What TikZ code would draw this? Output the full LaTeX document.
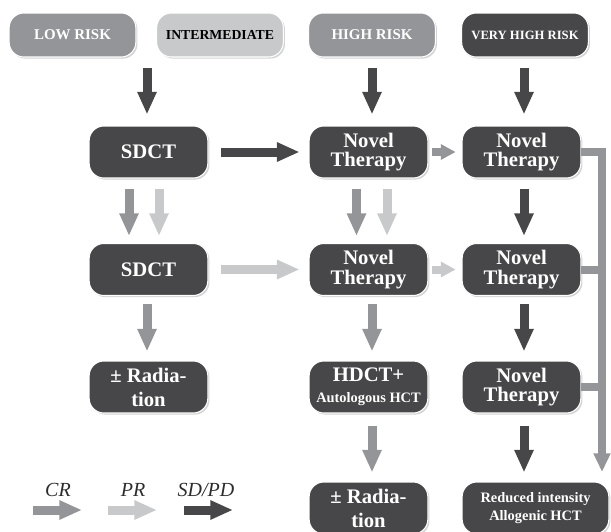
\documentclass[tikz,border=0pt]{standalone}
\usepackage{fontspec}
\setmainfont{Liberation Serif}
\usetikzlibrary{arrows.meta,shadows,calc}

\definecolor{darkbox}{RGB}{71,71,73}
\definecolor{midgray}{RGB}{147,149,152}
\definecolor{lightgray}{RGB}{200,201,203}
\definecolor{legendtext}{RGB}{45,45,47}

\tikzset{
	box/.style={rounded corners=11pt, fill=darkbox, draw=white, line width=0.8pt,
			text=white, font=\bfseries\fontsize{15.5}{14.5}\selectfont, align=center,
			minimum width=89pt, minimum height=39pt, inner sep=0pt,
			drop shadow={shadow xshift=1.2pt, shadow yshift=-1.2pt, opacity=0.35}},
	riskbox/.style={box, minimum width=95pt, minimum height=33pt,
			font=\bfseries\fontsize{11.2}{13}\selectfont},
	flow/.style={line width=6.75pt, -{Triangle[width=13.5pt,length=17pt]}},
	smallflow/.style={line width=6pt, -{Triangle[width=11pt,length=11pt]}},
	cr/.style={flow, draw=midgray},
	pr/.style={flow, draw=lightgray},
	sd/.style={flow, draw=darkbox},
	legendlabel/.style={font=\itshape\fontsize{15}{17}\selectfont, text=legendtext}
}

\begin{document}
\begin{tikzpicture}[x=0.75pt, y=-0.75pt]
	\useasboundingbox (0, 0) rectangle (611, 532);

	% risk groups
	\node[riskbox, fill=midgray] (low) at (72.5, 35) {LOW RISK};
	\node[riskbox, fill=lightgray, text=black, font=\bfseries\fontsize{10.3}{12}\selectfont] (inter) at (220, 35) {INTERMEDIATE};
	\node[riskbox, fill=midgray] (high) at (372, 35) {HIGH RISK};
	\node[riskbox, font=\bfseries\fontsize{9.5}{11}\selectfont] (vhigh) at (525, 35) {VERY HIGH RISK};

	% low / intermediate column
	\node[box] (sdctA) at (148.5, 152) {SDCT};
	\node[box] (sdctB) at (148.5, 269.5) {SDCT};
	\node[box, font=\bfseries\fontsize{15.5}{18}\selectfont] (radA) at (148.5, 387) {\textpm\ Radia-\\tion};

	% high risk column
	\node[box] (novA) at (368.5, 152) {Novel\\Therapy};
	\node[box] (novB) at (368.5, 269.5) {Novel\\Therapy};
	\node[box] (hdct) at (368.5, 387) {HDCT+\\[1pt]{\fontsize{10.8}{12}\selectfont Autologous HCT}};
	\node[box, font=\bfseries\fontsize{15.5}{18}\selectfont] (radB) at (368.5, 508) {\textpm\ Radia-\\tion};

	% very high risk column
	\node[box] (novC) at (521.5, 152) {Novel\\Therapy};
	\node[box] (novD) at (521.5, 269.5) {Novel\\Therapy};
	\node[box] (novE) at (521.5, 387) {Novel\\Therapy};
	\node[box, minimum width=110pt, font=\bfseries\fontsize{10.8}{13.5}\selectfont] (allo) at (535.5, 508) {Reduced intensity\\Allogenic HCT};

	% from the risk groups
	\draw[sd] ($(sdctA.north |- low.south)+(-1.5, 10)$) -- ($(sdctA.north)+(-1.5, -11)$);
	\draw[sd] ($(novA.north |- high.south)+(3.5, 10)$) -- ($(novA.north)+(3.5, -11)$);
	\draw[sd] ($(novC.north |- vhigh.south)+(2.5, 10)$) -- ($(novC.north)+(2.5, -11)$);

	% across
	\draw[sd, shorten <=9.75pt, shorten >=6.75pt] (sdctA.east) -- (novA.west);
	\draw[pr, shorten <=9.75pt, shorten >=6.75pt] (sdctB.east) -- (novB.west);
	\draw[smallflow, draw=midgray, shorten <=3pt, shorten >=4.5pt] (novA.east) -- (novC.west);
	\draw[smallflow, draw=lightgray, shorten <=3pt, shorten >=4.5pt] (novB.east) -- (novD.west);

	% first row down
	\draw[cr] ($(sdctA.south)+(-19.5, 10)$) -- ($(sdctA.south |- sdctB.north)+(-19.5, -7)$);
	\draw[pr] ($(sdctA.south)+(10.5, 10)$) -- ($(sdctA.south |- sdctB.north)+(10.5, -7)$);
	\draw[cr] ($(novA.south)+(-12, 10)$) -- ($(novA.south |- novB.north)+(-12, -7)$);
	\draw[pr] ($(novA.south)+(18.5, 10)$) -- ($(novA.south |- novB.north)+(18.5, -7)$);
	\draw[sd] ($(novC.south)+(2.5, 10)$) -- ($(novC.south |- novD.north)+(2.5, -7)$);

	% second row down
	\draw[cr] ($(sdctB.south)+(-1.5, 8)$) -- ($(sdctB.south |- radA.north)+(-1.5, -9)$);
	\draw[cr] ($(novB.south)+(3.5, 8)$) -- ($(novB.south |- hdct.north)+(3.5, -9)$);
	\draw[sd] ($(novD.south)+(2.5, 8)$) -- ($(novD.south |- novE.north)+(2.5, -9)$);

	% third row down
	\draw[cr] ($(hdct.south)+(3.5, 12)$) -- ($(hdct.south |- radB.north)+(3.5, -9)$);
	\draw[sd] ($(novE.south)+(2.5, 12)$) -- ($(novE.south |- allo.north)+(2.5, -9)$);

	% rail to transplant
	\coordinate (rail) at (602, 472);
	\draw[midgray, line width=6pt, line join=miter, -{Triangle[width=12pt,length=14pt]}] (novC.east) -| (rail);
	\draw[midgray, line width=6pt] (novD.east) -- (novD.east -| rail);
	\draw[midgray, line width=6pt] (novE.east) -- (novE.east -| rail);

	% legend
	\node[legendlabel] (crlab) at (58, 490) {CR};
	\node[legendlabel] (prlab) at (133, 490) {PR};
	\node[legendlabel] (sdlab) at (206, 490) {SD/PD};
	\coordinate (crA) at (33, 510);
	\coordinate (crB) at (82, 510);
	\coordinate (prA) at (108, 510);
	\coordinate (prB) at (157, 510);
	\coordinate (sdA) at (184, 510);
	\coordinate (sdB) at (233, 510);
	\draw[cr] (crA) -- (crB);
	\draw[pr] (prA) -- (prB);
	\draw[sd] (sdA) -- (sdB);
\end{tikzpicture}
\end{document}
